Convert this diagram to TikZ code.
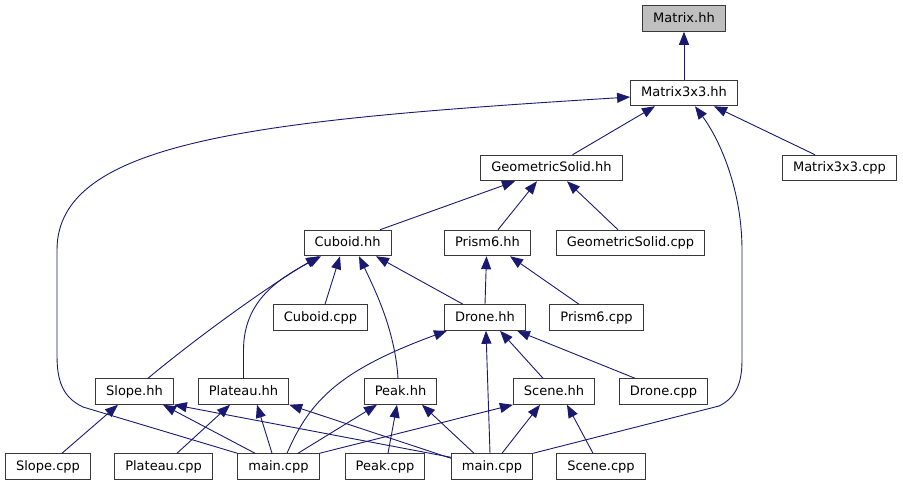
\documentclass[tikz,border=0pt]{standalone}
\usepackage{fontspec}
\setmainfont{DejaVu Sans}
\usepackage{xcolor}
\usepackage{tikz}
\usetikzlibrary{calc,arrows.meta}

\definecolor{edgeblue}{HTML}{191970}
\definecolor{boxline}{HTML}{383838}
\definecolor{topfill}{HTML}{BFBFBF}

\begin{document}
\begin{tikzpicture}[
        x=1pt, y=-1pt,
        file/.style={
            draw=boxline,
            line width=1pt,
            fill=white,
            inner xsep=10.5pt,
            inner ysep=0pt,
            minimum height=25.5pt,
            text height=9.5pt,
            text depth=2.5pt,
            font=\fontsize{13}{15}\selectfont
        },
        dep/.style={
            draw=edgeblue,
            line width=0.9pt,
            -{Triangle[length=13pt,width=10pt]}
        }
    ]
        \useasboundingbox (0,0) rectangle (903,485);

        \node[file, fill=topfill] (matrix) at (684,18.5) {Matrix.hh};
        \node[file] (mthree) at (684,93) {Matrix3x3.hh};
        \node[file] (geosolid) at (551.5,168) {GeometricSolid.hh};
        \node[file] (mthreecpp) at (839.5,168) {Matrix3x3.cpp};
        \node[file] (cuboid) at (347.5,243) {Cuboid.hh};
        \node[file] (prism) at (487.5,243) {Prism6.hh};
        \node[file] (geosolidcpp) at (630.5,243) {GeometricSolid.cpp};
        \node[file] (cuboidcpp) at (320.5,317.5) {Cuboid.cpp};
        \node[file] (drone) at (485,317.5) {Drone.hh};
        \node[file] (prismcpp) at (596.5,317.5) {Prism6.cpp};
        \node[file] (slope) at (134.5,391.5) {Slope.hh};
        \node[file] (plateau) at (243.5,391.5) {Plateau.hh};
        \node[file] (peak) at (400.5,391.5) {Peak.hh};
        \node[file] (scene) at (554,391.5) {Scene.hh};
        \node[file] (dronecpp) at (663.5,391.5) {Drone.cpp};
        \node[file] (slopecpp) at (48,466.5) {Slope.cpp};
        \node[file] (plateaucpp) at (163.5,466.5) {Plateau.cpp};
        \node[file] (mainA) at (278.5,466.5) {main.cpp};
        \node[file] (peakcpp) at (385,466.5) {Peak.cpp};
        \node[file] (mainB) at (492,466.5) {main.cpp};
        \node[file] (scenecpp) at (601,466.5) {Scene.cpp};

        \draw[dep] (mthree) -- (matrix);
        \draw[dep] ($(geosolid.north)+(21,0)$) -- ($(mthree.south)+(-29,0)$);
        \draw[dep] ($(mthreecpp.north)+(-24.5,0)$) -- ($(mthree.south)+(30,0)$);
        \draw[dep] (mainA.north west) -- (83,407)
            .. controls (62,397) and (57,380) .. (57,355) -- (57,250)
            .. controls (57,140) and (260,120) .. ($(mthree.west)+(0,4)$);
        \draw[dep] (mainB.north east) -- (719,406)
            .. controls (735,398) and (742,385) .. (742,360) -- (742,250)
            .. controls (742,190) and (720,140) .. ($(mthree.south)+(11,0)$);

        \draw[dep] ($(cuboid.north)+(32.5,0)$) -- ($(geosolid.south)+(-36.5,0)$);
        \draw[dep] ($(prism.north)+(10.5,0)$) -- ($(geosolid.south)+(-14.5,0)$);
        \draw[dep] ($(geosolidcpp.north)+(-12.5,0)$) -- ($(geosolid.south)+(15.5,0)$);

        \draw[dep] ($(slope.north)+(13.5,0)$)
            .. controls (200,335) and (270,285) .. ($(cuboid.south)+(-28.5,0)$);
        \draw[dep] (plateau.north) -- (243.5,350)
            .. controls (243.5,300) and (280,278) .. ($(cuboid.south)+(-26.5,0)$);
        \draw[dep] ($(cuboidcpp.north)+(4.5,0)$) -- ($(cuboid.south)+(-7.5,0)$);
        \draw[dep] ($(peak.north)+(-2.5,0)$)
            .. controls (395,330) and (375,290) .. ($(cuboid.south)+(11.5,0)$);
        \draw[dep] ($(drone.north)+(-22,0)$) -- ($(cuboid.south)+(28.5,0)$);

        \draw[dep] (drone.north) -- ($(prism.south)+(-1,0)$);
        \draw[dep] ($(prismcpp.north)+(-17.5,0)$) -- ($(prism.south)+(22.5,0)$);

        \draw[dep] ($(mainA.north)+(8.5,0)$)
            .. controls (310,400) and (340,370) .. ($(drone.south)+(-38,0)$);
        \draw[dep] ($(mainB.north)+(-2,0)$) -- ($(drone.south)+(1,0)$);
        \draw[dep] ($(scene.north)+(-11,0)$) -- ($(drone.south)+(15,0)$);
        \draw[dep] ($(dronecpp.north)+(-28.5,0)$) -- ($(drone.south)+(32,0)$);

        \draw[dep] ($(slopecpp.north)+(14,0)$) -- ($(slope.south)+(-16.5,0)$);
        \draw[dep] ($(mainA.north)+(-23.5,0)$) -- ($(slope.south)+(28.5,0)$);
        \draw[dep] ($(mainB.north west)+(0,4)$) -- (slope.south east);

        \draw[dep] ($(plateaucpp.north)+(13.5,0)$) -- ($(plateau.south)+(-13.5,0)$);
        \draw[dep] ($(mainA.north)+(-6.5,0)$) -- ($(plateau.south)+(13.5,0)$);
        \draw[dep] ($(mainB.north west)+(0,5)$) -- (plateau.south east);

        \draw[dep] ($(mainA.north)+(19.5,0)$) -- ($(peak.south)+(-23.5,0)$);
        \draw[dep] ($(peakcpp.north)+(3,0)$) -- ($(peak.south)+(-3.5,0)$);
        \draw[dep] ($(mainB.north)+(-18,0)$) -- ($(peak.south)+(21.5,0)$);

        \draw[dep] (mainA.north east) -- (scene.south west);
        \draw[dep] ($(mainB.north)+(10,0)$) -- ($(scene.south)+(-14,0)$);
        \draw[dep] ($(scenecpp.north)+(-8,0)$) -- ($(scene.south)+(13,0)$);
    \end{tikzpicture}
\end{document}
